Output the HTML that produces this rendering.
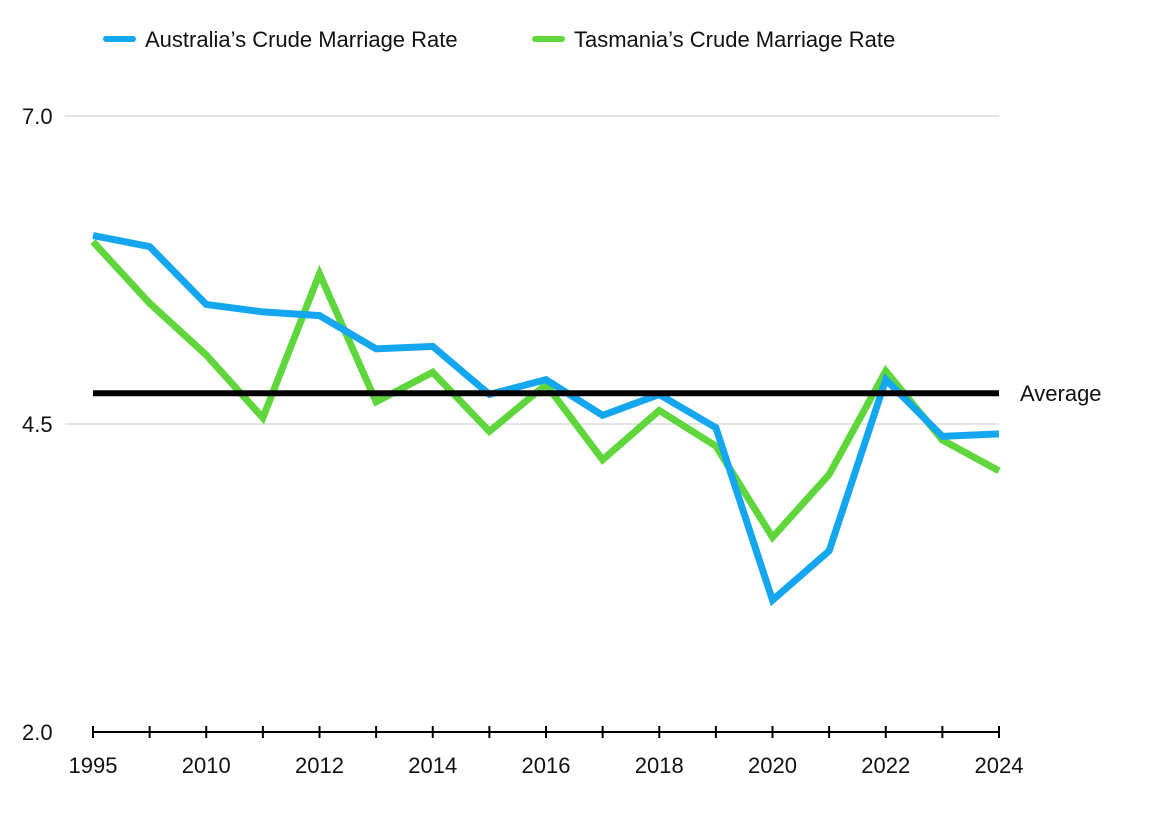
<!DOCTYPE html>
<html><head><meta charset="utf-8"><style>
body{margin:0;background:#fff;font-family:"Liberation Sans",sans-serif;}
svg text{font-family:"Liberation Sans",sans-serif;}
</style></head><body>
<svg id="chart" width="1152" height="816" xmlns="http://www.w3.org/2000/svg">
<g>
<g><line x1="106" y1="39" x2="133" y2="39" stroke="#14a7f0" stroke-width="6" stroke-linecap="round"/><text x="145" y="47" font-size="22" fill="#111">Australia’s Crude Marriage Rate</text></g>
<g><line x1="535" y1="39" x2="562" y2="39" stroke="#5fd63b" stroke-width="6" stroke-linecap="round"/><text x="574" y="47" font-size="22" fill="#111">Tasmania’s Crude Marriage Rate</text></g>
</g>
<g id="grid"></g>
<g id="series"></g>
</svg>
<script>
const categories=["1995","2009","2010","2011","2012","2013","2014","2015","2016","2017","2018","2019","2020","2021","2022","2023","2024"];
const australia=[6.03,5.94,5.47,5.41,5.38,5.11,5.13,4.74,4.86,4.57,4.74,4.47,3.07,3.47,4.86,4.40,4.42];
const tasmania=[5.98,5.48,5.06,4.55,5.72,4.68,4.92,4.44,4.82,4.21,4.61,4.32,3.58,4.09,4.93,4.37,4.12];
const averageValue=[4.75];
const yTicks=[2.0,4.5,7.0];
const xLabels=["1995","","2010","","2012","","2014","","2016","","2018","","2020","","2022","","2024"];
const NS="http://www.w3.org/2000/svg";
const x0=93,x1=999,yTop=116,yBot=732,vMin=2,vMax=7;
const xs=i=>x0+i*(x1-x0)/(categories.length-1);
const ys=v=>yBot-(v-vMin)/(vMax-vMin)*(yBot-yTop);
function mk(tag,attrs,parent){const e=document.createElementNS(NS,tag);for(const k in attrs)e.setAttribute(k,attrs[k]);parent.appendChild(e);return e;}
const grid=document.getElementById('grid'),series=document.getElementById('series');
yTicks.forEach(v=>{
  if(v>vMin){const l=mk('line',{x1:65,x2:x1,y1:ys(v),y2:ys(v),stroke:'#c8c8c8','stroke-width':1},grid);
  
  }
  const t=mk('text',{x:22,y:ys(v)+8,'font-size':22,fill:'#111'},grid);t.textContent=v.toFixed(1);
  
  
});
const ax=mk('line',{x1:x0,x2:x1,y1:yBot,y2:yBot,stroke:'#000','stroke-width':2},grid);


categories.forEach((c,i)=>{
  const tk=mk('line',{x1:xs(i),x2:xs(i),y1:yBot-6,y2:yBot+6,stroke:'#000','stroke-width':2},grid);
  
  
  if(xLabels[i]){const t=mk('text',{x:xs(i),y:773,'font-size':22,fill:'#111','text-anchor':'middle'},grid);t.textContent=xLabels[i];
  
  }
});
function line(vals,color,name){
  const p=mk('polyline',{points:vals.map((v,i)=>xs(i)+','+ys(v)).join(' '),fill:'none',stroke:color,'stroke-width':7,'stroke-linejoin':'miter'},series);
  
  
}
line(tasmania,'#5fd63b','tasmania-line');
line(australia,'#14a7f0','australia-line');
const av=mk('line',{x1:x0,x2:x1,y1:ys(averageValue[0]),y2:ys(averageValue[0]),stroke:'#000','stroke-width':6},series);


const at=mk('text',{x:1020,y:ys(averageValue[0])+8,'font-size':22,fill:'#111'},series);at.textContent='Average';


</script>
</body></html>
